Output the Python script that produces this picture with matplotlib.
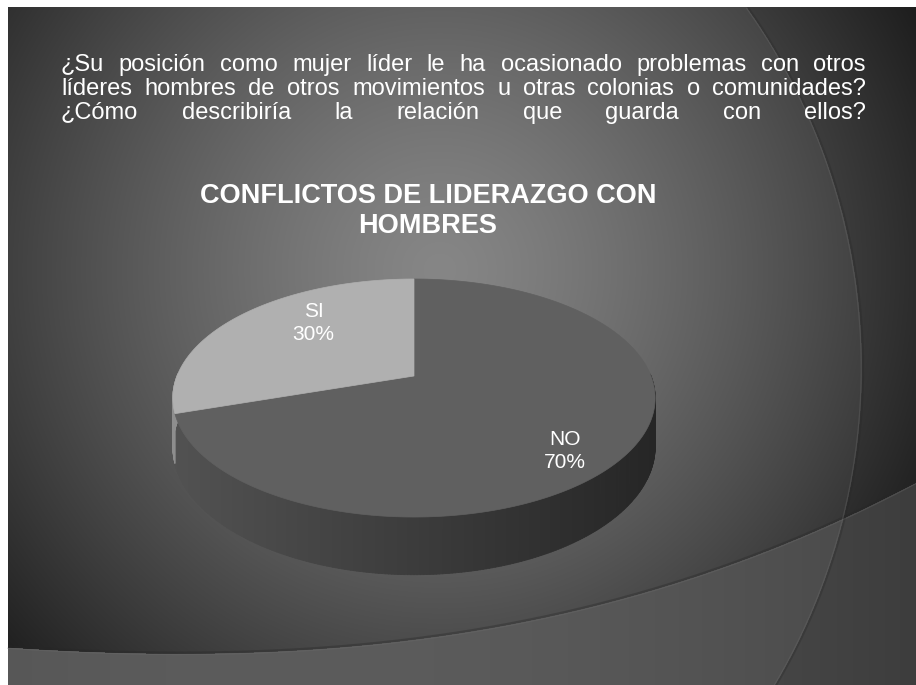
import numpy as np
import matplotlib
matplotlib.use("Agg")
import matplotlib.pyplot as plt
from matplotlib.collections import PolyCollection
from matplotlib.patches import Polygon
from matplotlib.font_manager import FontProperties

# ---------------- data ----------------
categories = ["NO", "SI"]
values = [70, 30]
slice_colors = ["#606060", "#b0b0b0"]
side_colors_left = ["#525252", "#8e8e8e"]
side_colors_right = ["#262626", "#6e6e6e"]
question_lines = [
    "¿Su posición como mujer líder le ha ocasionado problemas con otros",
    "líderes hombres de otros movimientos u otras colonias o comunidades?",
    "¿Cómo describiría la relación que guarda con ellos?",
]
chart_title_lines = ["CONFLICTOS DE LIDERAZGO CON", "HOMBRES"]

# ---------------- layout ----------------
W, H = 916, 685
plt.rcParams["font.family"] = "Liberation Sans"
QSIZE = 17
qprop = FontProperties(family="Liberation Sans", size=QSIZE)


def ink_top(s):
    f = plt.figure(figsize=(1.5, 1.0), dpi=100)
    f.text(0.2, 0.4, s, fontproperties=qprop, color="black", va="baseline")
    f.canvas.draw()
    a = np.asarray(f.canvas.buffer_rgba())[:, :, 0]
    rows = np.where((a < 140).any(axis=1))[0]
    plt.close(f)
    return int(rows.min())


# baseline correction for words containing the inverted question mark
INV_CORR = ink_top("S\u00bf") - ink_top("S")

fig = plt.figure(figsize=(W / 100, H / 100), dpi=100)
fig.patch.set_facecolor("white")
ax = fig.add_axes([0, 0, 1, 1])
ax.axis("off")

# ---------------- background (slide design) ----------------
X0, Y0 = 8, 7
yy, xx = np.mgrid[Y0:H, X0:W].astype(float) + 0.5
d = np.hypot(xx - 440, yy - 270)
bg = 134 - 88 * np.clip(d / 515, 0, 1.25) ** 1.3
sw_x = np.array([8, 200, 433, 600, 916.0])
sw_y = np.array([648, 652, 640, 603, 483.0])
sw_coef = np.polyfit(sw_x, sw_y, 3)
below = yy > np.polyval(sw_coef, xx)
bg_below = 92 - 20 * ((xx - 300) / 600) ** 2
bg = np.where(below, bg_below, bg)
arc_c = (240.0, 368.0)
arc_r = 622.0
outside = np.hypot(xx - arc_c[0], yy - arc_c[1]) > arc_r
bg = np.where(outside, bg - 10, bg)
bg = np.clip(bg, 0, 255) / 255.0
img = np.dstack([bg, bg, bg])
ax.imshow(img, extent=(X0, W, H, Y0), origin="upper", interpolation="bilinear", zorder=0)

# decorative edge lines
sx = np.linspace(X0, W, 400)
sy = np.polyval(sw_coef, sx)
ax.plot(sx, sy - 1.2, color="#262626", lw=1.6, alpha=0.35, zorder=1, solid_capstyle="butt")
ax.plot(sx, sy + 0.8, color="#6c6c6c", lw=0.9, alpha=0.35, zorder=1)
phi = np.radians(np.linspace(-35.3, 30.6, 400))
axx = arc_c[0] + arc_r * np.cos(phi)
ayy = arc_c[1] + arc_r * np.sin(phi)
ax.plot(axx - 0.8, ayy, color="#6a6a6a", lw=0.9, alpha=0.35, zorder=1)
ax.plot(axx + 1.2, ayy, color="#262626", lw=1.4, alpha=0.3, zorder=1)

ax.set_xlim(0, W)
ax.set_ylim(H, 0)
ax.set_aspect("auto")

# ---------------- 3D pie ----------------
cx, cy = 414.0, 376.0
R, K, P, DEPTH = 237.0, 0.485, 0.185, 47.0


def proj(theta, z=0.0):
    t = np.radians(theta)
    s = 1.0 / (1.0 + P * np.sin(t))
    return cx + R * np.cos(t) * s, cy - R * K * np.sin(t) * s + z * s


total = float(sum(values))
bounds = []
start = 90.0
for v in values:
    end = start - 360.0 * v / total
    bounds.append((end, start))
    start = end

xl, xr = proj(190.7)[0], proj(349.3)[0]

# side walls (front half only)
for i, (a0, a1) in enumerate(bounds):
    th = np.linspace(a0, a1, 400)
    polys, cols = [], []
    for t0, t1 in zip(th[:-1], th[1:]):
        tm = 0.5 * (t0 + t1)
        if np.sin(np.radians(tm)) > 0.02:
            continue
        x0, y0 = proj(t0)
        x1, y1 = proj(t1)
        x2, y2 = proj(t1, DEPTH)
        x3, y3 = proj(t0, DEPTH)
        polys.append([(x0, y0), (x1, y1), (x2, y2), (x3, y3)])
        f = np.clip(((x0 + x1) / 2 - xl) / (xr - xl), 0, 1)
        cL = np.array(matplotlib.colors.to_rgb(side_colors_left[i]))
        cR = np.array(matplotlib.colors.to_rgb(side_colors_right[i]))
        cols.append(cL * (1 - f) + cR * f)
    if polys:
        pc = PolyCollection(polys, facecolors=cols, edgecolors=cols, linewidths=0.6, zorder=3)
        ax.add_collection(pc)

# top faces
for i, (a0, a1) in enumerate(bounds):
    th = np.linspace(a0, a1, 300)
    px, py = proj(th)
    pts = [(cx, cy)] + list(zip(px, py))
    ax.add_patch(Polygon(pts, closed=True, facecolor=slice_colors[i],
                         edgecolor=slice_colors[i], lw=0.5, zorder=4))

# data labels
LABEL_FRAC = [(0.70, 0.99), (0.58, 0.87)]
for i, (a0, a1) in enumerate(bounds):
    m = 0.5 * (a0 + a1)
    t = np.radians(m)
    s = 1.0 / (1.0 + P * np.sin(t))
    fx, fy = LABEL_FRAC[i]
    lx = cx + fx * R * np.cos(t) * s
    ly = cy - fy * R * K * np.sin(t) * s
    ax.text(lx, ly, f"{categories[i]}\n{values[i] / total * 100:.0f}%", color="white",
            fontsize=15, ha="center", va="center", linespacing=1.25, zorder=6)

# chart title
for j, line in enumerate(chart_title_lines):
    ax.text(428, 203 + 30 * j, line, color="white", fontsize=19.5, fontweight="bold",
            ha="center", va="baseline", zorder=6)

# question text (justified, words aligned on a common baseline)
fig.canvas.draw()
renderer = fig.canvas.get_renderer()
QX0, QX1 = 61, 866
QBASE, QSTEP = 71, 24
for j, line in enumerate(question_lines):
    words = line.split(" ")
    base = QBASE + QSTEP * j
    objs, widths = [], []
    for w in words:
        y = base - (INV_CORR if "\u00bf" in w else 0)
        o = ax.text(0, y, w, color="white", fontproperties=qprop,
                    ha="left", va="baseline", zorder=6)
        objs.append(o)
        widths.append(o.get_window_extent(renderer).width)
    gap = (QX1 - QX0 - sum(widths)) / (len(words) - 1)
    x = QX0
    for o, wd in zip(objs, widths):
        o.set_x(x)
        x += wd + gap

fig.savefig("out.png", dpi=100, facecolor="white")
